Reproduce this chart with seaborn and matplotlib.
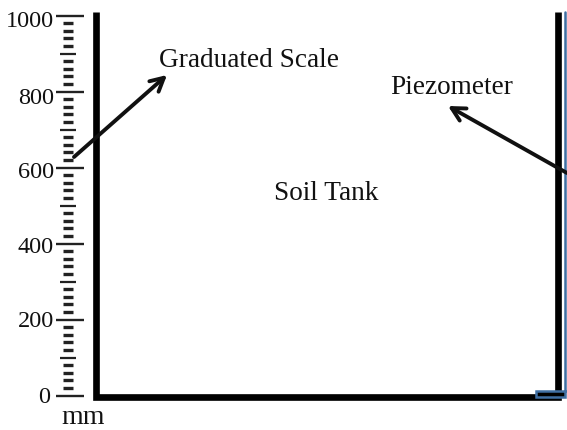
import matplotlib
matplotlib.use("Agg")
import matplotlib.pyplot as plt
from matplotlib.transforms import ScaledTranslation
import pandas as pd
import seaborn as sns

# scale values
major_ticks = [0, 200, 400, 600, 800, 1000]
major_labels = ["0", "200", "400", "600", "800", "1000"]
mid_ticks = [100, 300, 500, 700, 900]
small_ticks = [v for v in range(20, 1000, 20) if v % 100 != 0]

# tank outline, x in image pixels, y on the mm scale
tank = pd.DataFrame({
    "x": [96, 96, 557.5, 557.5],
    "y": [1008, -4, -4, 1008],
})
blue_x = [564.5, 564.5, 536, 536, 564.5]
blue_y = [1008, -5, -5, 11, 11]

# small shifts of the tick labels, in pixels
label_dx = [-4, 0, 0, 0, 0, 0]
label_dy = [-1, -1, 1, 2, 4, 3]


def py(pixel):
    # image pixel row to mm
    return 1000 - (pixel - 15.5) / 0.38


sns.set_style("white")
plt.rcParams["font.family"] = ["Liberation Serif", "DejaVu Serif"]

fig = plt.figure(figsize=(5.67, 4.30), dpi=100)
ax = fig.add_axes([0, 0, 1, 1])
ax.set_xlim(0, 567)
ax.set_ylim(py(430), py(0))

sns.despine(ax=ax, top=True, right=True, bottom=True, left=True)
ax.spines["left"].set_position(("data", 70))
ax.set_xticks([])
ax.set_yticks(major_ticks)
ax.set_yticklabels(major_labels)
ax.tick_params(axis="y", left=True, direction="inout", length=20.5, width=1.7,
               color="#222222", labelsize=17.5, labelcolor="#111111", pad=1.5)
for lab, dx, dy in zip(ax.get_yticklabels(), label_dx, label_dy):
    lab.set_transform(lab.get_transform() + ScaledTranslation(dx / 100, -dy / 100, fig.dpi_scale_trans))

# the finer divisions of the scale
ax.hlines(mid_ticks, 60, 76, color="#222222", lw=1.6)
ax.hlines(small_ticks, 62.5, 73, color="#222222", lw=2.4)

# blue edge of the right wall and its foot
ax.fill(blue_x[1:], blue_y[1:], facecolor="black", edgecolor="none", zorder=3)
sns.lineplot(data=tank, x="x", y="y", sort=False, estimator=None, color="black",
             lw=4.8, ax=ax, zorder=3, solid_joinstyle="miter", solid_capstyle="butt")
ax.plot(blue_x, blue_y, color="#3f6fa3", lw=1.8, zorder=4, solid_joinstyle="miter")
ax.set_xlabel("")
ax.set_ylabel("")

txt = dict(fontsize=19.6, color="#111111", va="center", ha="left")
ax.text(159, py(60), "Graduated Scale", **txt)
ax.text(390, py(87), "Piezometer", **txt)
ax.text(274, py(193), "Soil Tank", **txt)
ax.text(61, py(417), "mm", fontsize=20, color="#111111", va="center", ha="left")

arrow = dict(arrowstyle="->,head_length=0.95,head_width=0.5", lw=2.8, color="#111111",
             shrinkA=0, shrinkB=0)
ax.annotate("", xy=(167, py(75)), xytext=(74, py(157)), arrowprops=arrow, zorder=5)
ax.annotate("", xy=(448, py(106)), xytext=(567, py(173)), arrowprops=arrow, zorder=5)

fig.savefig("out.png", dpi=100)
